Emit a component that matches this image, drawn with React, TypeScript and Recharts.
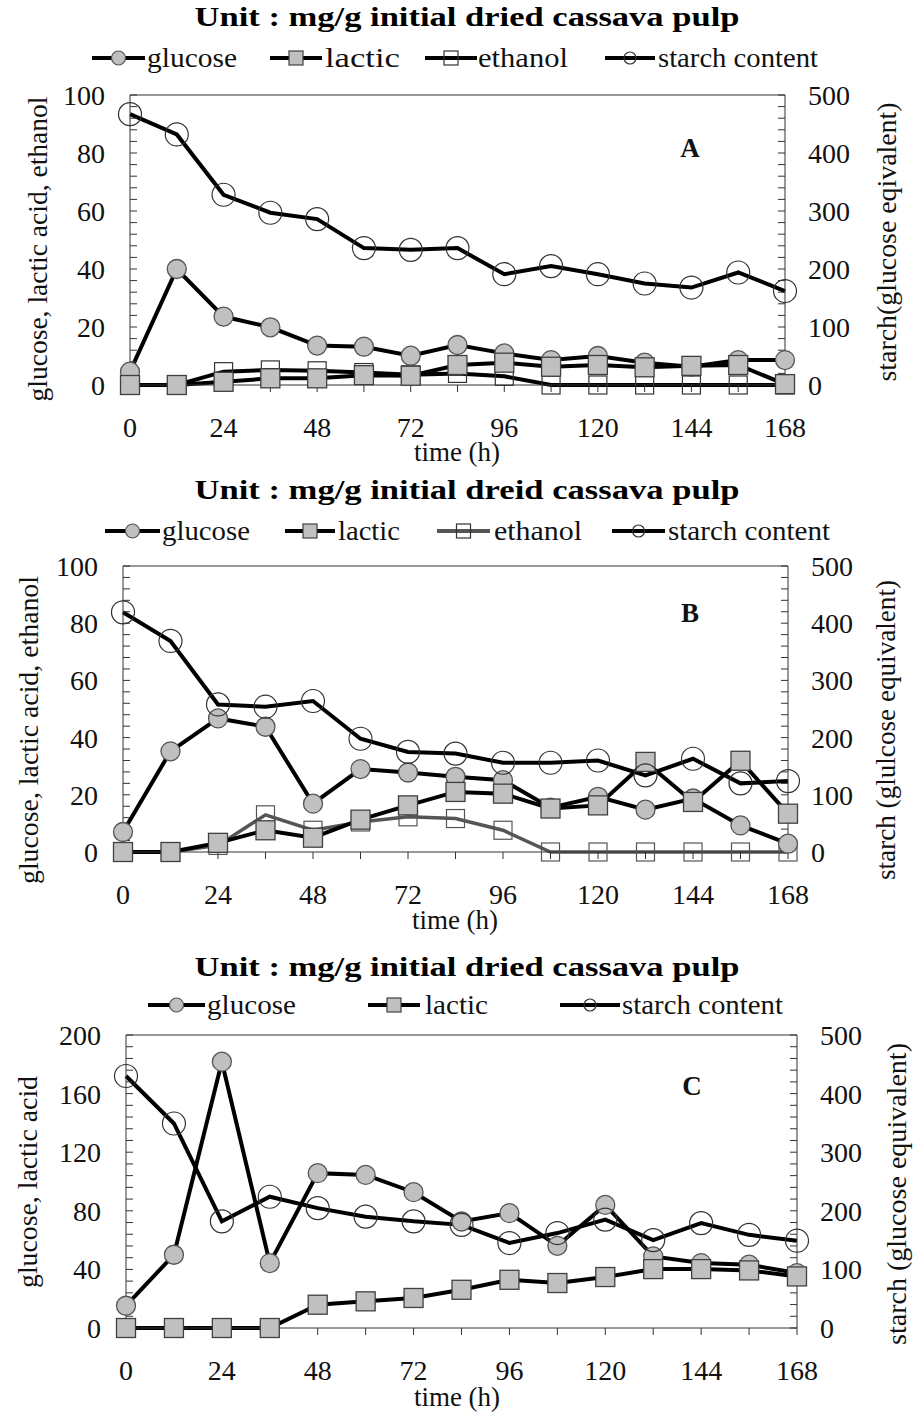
import React from "react";
import { LineChart, Line, XAxis, YAxis, ReferenceLine } from "recharts";

// sampling times (h)
const hours = [0, 12, 24, 36, 48, 60, 72, 84, 96, 108, 120, 132, 144, 156, 168];

// panel A
const glucoseA = [4.6, 40, 23.6, 19.9, 13.6, 13.2, 10.1, 13.8, 10.9, 8.6, 10, 7.7, 6.3, 8.6, 8.6];
const lacticA = [0, 0, 1.1, 2.3, 2.3, 3.4, 3.2, 6.9, 7.7, 6.3, 6.9, 6.1, 6.6, 6.9, 0.3];
const ethanolA = [0, 0, 4.6, 5.2, 4.9, 4.3, 3.5, 4.0, 3.0, 0, 0, 0, 0, 0, 0];
const starchA = [467, 432, 328, 297, 286, 236, 233, 236, 191, 205, 191, 175, 168, 194, 162];

// panel B
const glucoseB = [7, 35.2, 46.7, 43.8, 16.9, 29, 27.8, 26.3, 25.1, 15.5, 19.3, 14.8, 18.7, 9.3, 2.9];
const lacticB = [0, 0, 3.2, 7.6, 5, 11.3, 16.3, 21, 20.4, 15.2, 16.3, 31.5, 17.5, 31.9, 13.4];
const ethanolB = [0, 0, 2.3, 13, 7.6, 10.5, 12.3, 11.7, 7.6, 0, 0, 0, 0, 0, 0];
const starchB = [419, 369, 258, 254, 264, 198, 175, 172, 156, 156, 160, 134, 163, 120, 124];

// panel C
const glucoseC = [15.2, 50, 181.8, 44.3, 105.7, 104.5, 92.7, 72.7, 78.4, 56.1, 84, 48.9, 44.3, 43.2, 37.5];
const lacticC = [0, 0, 0, 0, 15.9, 18.2, 20.5, 26.1, 32.9, 30.7, 34.8, 40.2, 40.2, 39.3, 35.2];
const starchC = [430, 349, 182, 224, 204.5, 190, 182, 176, 145, 162, 185, 150, 179, 159, 149];

const hourTicks = [0, 12, 24, 36, 48, 60, 72, 84, 96, 108, 120, 132, 144, 156, 168];

const FONT = '"Liberation Serif", "Times New Roman", serif';
const AXIS = "#333";
const FILL = "#c0c0c0";

function buildRows(cols: Record<string, number[]>) {
  return hours.map((t, i) => {
    const row: Record<string, number> = { t };
    for (const k of Object.keys(cols)) row[k] = cols[k][i];
    return row;
  });
}

function steps(max: number, step: number) {
  const out: number[] = [];
  for (let v = 0; v <= max + 1e-9; v += step) out.push(Math.round(v * 100) / 100);
  return out;
}

const circleDot = (r: number, fill: string, stroke: string, sw: number) => (p: any) => {
  if (p.cx == null || p.cy == null) return <g key={p.index} />;
  return <circle key={p.index} cx={p.cx} cy={p.cy} r={r} fill={fill} stroke={stroke} strokeWidth={sw} />;
};

const squareDot = (s: number, fill: string, stroke: string, sw: number) => (p: any) => {
  if (p.cx == null || p.cy == null) return <g key={p.index} />;
  return (
    <rect key={p.index} x={p.cx - s / 2} y={p.cy - s / 2} width={s} height={s} fill={fill} stroke={stroke} strokeWidth={sw} />
  );
};

const glucoseDot = circleDot(9.5, FILL, "#555", 1.3);
const starchDot = circleDot(11.5, "none", "#333", 1.2);
const lacticDot = squareDot(19, FILL, "#404040", 1.3);
const ethanolDot = squareDot(18, "none", "#333", 1.2);
const ethanolDotB = squareDot(18, "none", "#555", 1.2);

interface SeriesDef {
  key: string;
  axis: "left" | "right";
  color: string;
  width: number;
  dot: any;
}

interface PanelProps {
  top: number;
  height: number;
  margin: { top: number; right: number; bottom: number; left: number };
  leftMax: number;
  leftStep: number;
  rows: Record<string, number>[];
  series: SeriesDef[];
}

function Panel({ top, height, margin, leftMax, leftStep, rows, series }: PanelProps) {
  const tickFont = { fill: "#111", fontSize: 28, fontFamily: FONT };
  return (
    <div style={{ position: "absolute", left: 0, top }}>
      <LineChart width={918} height={height} data={rows} margin={margin}>
        <XAxis
          dataKey="t"
          type="number"
          domain={[0, 168]}
          ticks={hourTicks}
          interval={0}
          tickFormatter={(v: number) => (v % 24 === 0 ? String(v) : "")}
          tickSize={7}
          tickMargin={25}
          height={60}
          axisLine={{ stroke: AXIS }}
          tickLine={{ stroke: AXIS }}
          tick={tickFont}
        />
        <YAxis
          yAxisId="left"
          domain={[0, leftMax]}
          ticks={steps(leftMax, leftStep)}
          interval={0}
          tickFormatter={(v: number) => (Math.round(v / leftStep) % 5 === 0 ? String(v) : "")}
          width={60}
          tickSize={-7}
          tickMargin={32}
          axisLine={{ stroke: AXIS }}
          tickLine={{ stroke: AXIS }}
          tick={tickFont}
        />
        <YAxis
          yAxisId="right"
          orientation="right"
          domain={[0, 500]}
          ticks={steps(500, 20)}
          interval={0}
          tickFormatter={(v: number) => (v % 100 === 0 ? String(v) : "")}
          width={60}
          tickSize={-7}
          tickMargin={30}
          axisLine={{ stroke: AXIS }}
          tickLine={{ stroke: AXIS }}
          tick={tickFont}
        />
        <ReferenceLine yAxisId="left" y={leftMax} stroke={AXIS} strokeWidth={1} />
        {series.map((s) => (
          <Line
            key={s.key}
            yAxisId={s.axis}
            dataKey={s.key}
            type="linear"
            stroke={s.color}
            strokeWidth={s.width}
            dot={s.dot}
            activeDot={false}
            isAnimationActive={false}
          />
        ))}
      </LineChart>
    </div>
  );
}

type IconKind = "glucose" | "lactic" | "ethanol" | "starch";

interface LegendItem {
  x1: number;
  x2: number;
  textX: number;
  textW: number;
  label: string;
  kind: IconKind;
  color?: string;
}

function LegendRow({ y, items }: { y: number; items: LegendItem[] }) {
  return (
    <g>
      {items.map((it) => {
        const cx = (it.x1 + it.x2) / 2;
        const c = it.color ?? "#000";
        return (
          <g key={it.label}>
            <line x1={it.x1} x2={it.x2} y1={y} y2={y} stroke={c} strokeWidth={4} />
            {it.kind === "glucose" && <circle cx={cx} cy={y} r={7} fill={FILL} stroke="#555" strokeWidth={1.2} />}
            {it.kind === "starch" && <circle cx={cx} cy={y} r={6} fill="none" stroke="#333" strokeWidth={1.2} />}
            {it.kind === "lactic" && (
              <rect x={cx - 7} y={y - 7} width={14} height={14} fill={FILL} stroke="#404040" strokeWidth={1.2} />
            )}
            {it.kind === "ethanol" && (
              <rect x={cx - 7} y={y - 7} width={14} height={14} fill="none" stroke="#333" strokeWidth={1.2} />
            )}
            <text
              x={it.textX}
              y={y + 9}
              fontSize={27}
              fontFamily={FONT}
              fill="#111"
              textLength={it.textW}
              lengthAdjust="spacingAndGlyphs"
            >
              {it.label}
            </text>
          </g>
        );
      })}
    </g>
  );
}

function Title({ y, text }: { y: number; text: string }) {
  return (
    <text
      x={467}
      y={y}
      textAnchor="middle"
      fontSize={27}
      fontWeight="bold"
      fontFamily={FONT}
      fill="#000"
      textLength={545}
      lengthAdjust="spacingAndGlyphs"
    >
      {text}
    </text>
  );
}

function VLabel({ x, y, len, text }: { x: number; y: number; len: number; text: string }) {
  return (
    <text
      x={x}
      y={y}
      transform={`rotate(-90 ${x} ${y})`}
      textAnchor="middle"
      fontSize={27}
      fontFamily={FONT}
      fill="#111"
      textLength={len}
      lengthAdjust="spacingAndGlyphs"
    >
      {text}
    </text>
  );
}

function HText({ x, y, text, bold, size }: { x: number; y: number; text: string; bold?: boolean; size?: number }) {
  return (
    <text x={x} y={y} textAnchor="middle" fontSize={size ?? 27} fontWeight={bold ? "bold" : "normal"} fontFamily={FONT} fill="#111">
      {text}
    </text>
  );
}

export default function App() {
  const rowsA = buildRows({ glucose: glucoseA, lactic: lacticA, ethanol: ethanolA, starch: starchA });
  const rowsB = buildRows({ glucose: glucoseB, lactic: lacticB, ethanol: ethanolB, starch: starchB });
  const rowsC = buildRows({ glucose: glucoseC, lactic: lacticC, starch: starchC });

  const seriesA: SeriesDef[] = [
    { key: "ethanol", axis: "left", color: "#000", width: 4, dot: ethanolDot },
    { key: "glucose", axis: "left", color: "#000", width: 4, dot: glucoseDot },
    { key: "lactic", axis: "left", color: "#000", width: 4, dot: lacticDot },
    { key: "starch", axis: "right", color: "#000", width: 4, dot: starchDot },
  ];
  const seriesB: SeriesDef[] = [
    { key: "ethanol", axis: "left", color: "#555", width: 3.5, dot: ethanolDotB },
    { key: "glucose", axis: "left", color: "#000", width: 4, dot: glucoseDot },
    { key: "lactic", axis: "left", color: "#000", width: 4, dot: lacticDot },
    { key: "starch", axis: "right", color: "#000", width: 4, dot: starchDot },
  ];
  const seriesC: SeriesDef[] = [
    { key: "glucose", axis: "left", color: "#000", width: 4, dot: glucoseDot },
    { key: "lactic", axis: "left", color: "#000", width: 4, dot: lacticDot },
    { key: "starch", axis: "right", color: "#000", width: 4, dot: starchDot },
  ];

  return (
    <div style={{ position: "absolute", left: 0, top: 0, width: 918, height: 1412, background: "#fff", overflow: "hidden" }}>
      <Panel top={0} height={470} margin={{ top: 95, right: 73, bottom: 25, left: 70 }} leftMax={100} leftStep={4} rows={rowsA} series={seriesA} />
      <Panel top={470} height={470} margin={{ top: 96, right: 70, bottom: 28, left: 63 }} leftMax={100} leftStep={4} rows={rowsB} series={seriesB} />
      <Panel top={940} height={472} margin={{ top: 95, right: 61, bottom: 24, left: 66 }} leftMax={200} leftStep={8} rows={rowsC} series={seriesC} />

      <svg width={918} height={1412} style={{ position: "absolute", left: 0, top: 0, pointerEvents: "none" }}>
        <Title y={26} text="Unit : mg/g initial dried  cassava pulp" />
        <LegendRow
          y={58}
          items={[
            { x1: 92, x2: 145, textX: 147, textW: 90, label: "glucose", kind: "glucose" },
            { x1: 270, x2: 322, textX: 325, textW: 75, label: "lactic", kind: "lactic" },
            { x1: 425, x2: 477, textX: 478, textW: 90, label: "ethanol", kind: "ethanol" },
            { x1: 605, x2: 655, textX: 658, textW: 160, label: "starch content", kind: "starch" },
          ]}
        />
        <VLabel x={47} y={249} len={305} text="glucose, lactic acid, ethanol" />
        <VLabel x={896} y={242} len={279} text="starch(glucose eqivalent)" />
        <HText x={457} y={461} text="time (h)" />
        <HText x={690} y={157} text="A" bold size={27} />

        <Title y={499} text="Unit : mg/g initial dreid cassava pulp" />
        <LegendRow
          y={531}
          items={[
            { x1: 105, x2: 160, textX: 162, textW: 88, label: "glucose", kind: "glucose" },
            { x1: 285, x2: 335, textX: 338, textW: 62, label: "lactic", kind: "lactic" },
            { x1: 437, x2: 490, textX: 494, textW: 88, label: "ethanol", kind: "ethanol", color: "#555" },
            { x1: 612, x2: 665, textX: 668, textW: 162, label: "starch content", kind: "starch" },
          ]}
        />
        <VLabel x={38} y={730} len={308} text="glucose, lactic acid, ethanol" />
        <VLabel x={895} y={730} len={300} text="starch (glulcose equivalent)" />
        <HText x={455} y={929} text="time (h)" />
        <HText x={690} y={622} text="B" bold size={27} />

        <Title y={976} text="Unit : mg/g initial dried  cassava pulp" />
        <LegendRow
          y={1005}
          items={[
            { x1: 148, x2: 205, textX: 207, textW: 89, label: "glucose", kind: "glucose" },
            { x1: 368, x2: 420, textX: 425, textW: 63, label: "lactic", kind: "lactic" },
            { x1: 560, x2: 620, textX: 622, textW: 161, label: "starch content", kind: "starch" },
          ]}
        />
        <VLabel x={37} y={1182} len={212} text="glucose, lactic acid" />
        <VLabel x={906} y={1194} len={302} text="starch (glucose equivalent)" />
        <HText x={457} y={1406} text="time (h)" />
        <HText x={692} y={1095} text="C" bold size={27} />
      </svg>
    </div>
  );
}
